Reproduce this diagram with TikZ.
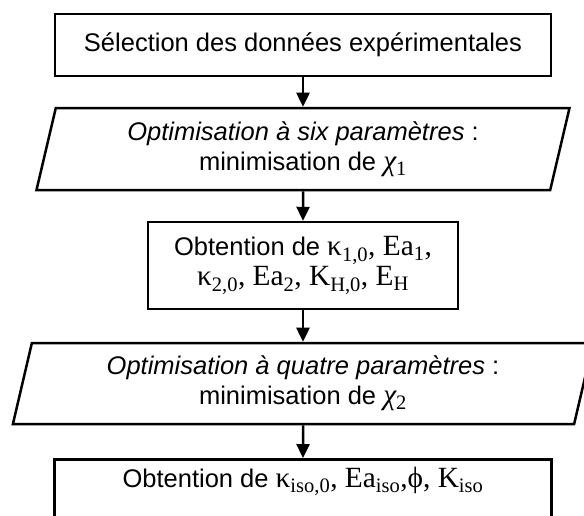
\documentclass[tikz,border=0pt]{standalone}
\usepackage{fontspec}
\setmainfont{Liberation Sans}
\newfontfamily\serifmath[Scale=1.15]{Liberation Serif}
\usetikzlibrary{arrows.meta,shapes.geometric}
\newcommand{\lo}[1]{\textsubscript{#1}}

\begin{document}
\begin{tikzpicture}[x=1pt,y=-1pt,line width=2.5pt,
  every node/.style={font=\fontsize{25.5}{30}\selectfont,align=center,inner sep=0pt},
  box/.style={draw,rectangle},
  para/.style={draw,trapezium,trapezium left angle=76,trapezium right angle=104,trapezium stretches=true},
  flow/.style={-{Triangle[width=13pt,length=14pt]}}]
\useasboundingbox (0,0) rectangle (584,515);
\clip (0,0) rectangle (584,515);

\node[box,minimum width=496,minimum height=62] (sel) at (303,45) {Sélection des données expérimentales};
\node[para,minimum width=536,minimum height=82] (opt1) at (303,149) {\textit{Optimisation à six paramètres} :\\minimisation de {\serifmath{\itshape χ}\lo{1}}};
\node[box,minimum width=310,minimum height=87] (fit1) at (303,265.5) {Obtention de {\serifmath κ\lo{1,0}, Ea\lo{1},}\\{\serifmath κ\lo{2,0}, Ea\lo{2}, K\lo{H,0}, E\lo{H}}};
\node[para,minimum width=584,minimum height=81] (opt2) at (303,383.5) {\textit{Optimisation à quatre paramètres} :\\minimisation de {\serifmath{\itshape χ}\lo{2}}};
\node[box,anchor=north,minimum width=497,text height=28pt,text depth=60pt] (fit2) at (303,458) {Obtention de {\serifmath κ\lo{iso,0}, Ea\lo{iso},ϕ, K\lo{iso}}};

\draw[flow] (sel) -- (opt1);
\draw[flow] (opt1) -- (fit1);
\draw[flow] (fit1) -- (opt2);
\draw[flow] (opt2) -- (fit2);

\end{tikzpicture}
\end{document}
